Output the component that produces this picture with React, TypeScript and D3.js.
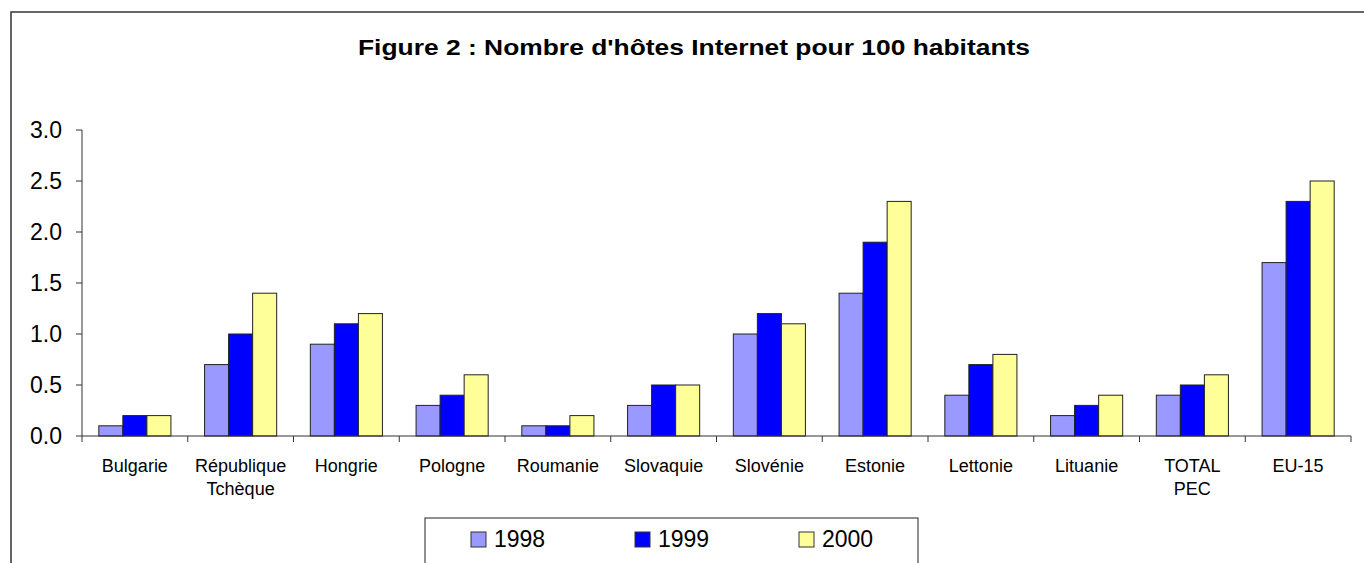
import React from "react";
import * as d3 from "d3";

const categories = [
  ["Bulgarie"],
  ["République", "Tchèque"],
  ["Hongrie"],
  ["Pologne"],
  ["Roumanie"],
  ["Slovaquie"],
  ["Slovénie"],
  ["Estonie"],
  ["Lettonie"],
  ["Lituanie"],
  ["TOTAL", "PEC"],
  ["EU-15"],
];
const years = ["1998", "1999", "2000"];
const values1998 = [0.1, 0.7, 0.9, 0.3, 0.1, 0.3, 1.0, 1.4, 0.4, 0.2, 0.4, 1.7];
const values1999 = [0.2, 1.0, 1.1, 0.4, 0.1, 0.5, 1.2, 1.9, 0.7, 0.3, 0.5, 2.3];
const values2000 = [0.2, 1.4, 1.2, 0.6, 0.2, 0.5, 1.1, 2.3, 0.8, 0.4, 0.6, 2.5];
const yTicks = [0, 0.5, 1.0, 1.5, 2.0, 2.5, 3.0];
const colors = ["#9999ff", "#0000ff", "#ffff99"];

const FONT = "Arial, 'Liberation Sans', sans-serif";

export default function App() {
  const width = 1364;
  const height = 563;
  const series = [values1998, values1999, values2000];
  const names = categories.map((c) => c.join(" "));

  const x0 = d3.scaleBand().domain(names).range([82, 1351]).padding(0);
  const x1 = d3
    .scaleBand()
    .domain(years)
    .range([0, x0.bandwidth()])
    .paddingInner(0)
    .paddingOuter(0.7);
  const y = d3.scaleLinear().domain([0, 3]).range([436, 130]);

  const legendX = [471, 635, 799];

  return (
    <svg
      width={width}
      height={height}
      style={{ position: "absolute", left: 0, top: 0, background: "#fff" }}
      fontFamily={FONT}
    >
      <rect x={0} y={0} width={width} height={height} fill="#fff" />
      {/* outer frame */}
      <rect x={11} y={12} width={1400} height={600} fill="none" stroke="#333" strokeWidth={1.5} />

      <text
        x={694}
        y={55}
        textAnchor="middle"
        fontSize={22}
        fontWeight="bold"
        textLength={672}
        lengthAdjust="spacingAndGlyphs"
      >
        Figure 2 : Nombre d'hôtes Internet pour 100 habitants
      </text>

      {/* bars */}
      {names.map((name, i) => (
        <g key={name} transform={`translate(${x0(name)},0)`}>
          {years.map((yr, j) => (
            <rect
              key={yr}
              x={x1(yr)}
              y={y(series[j][i])}
              width={x1.bandwidth()}
              height={y(0) - y(series[j][i])}
              fill={colors[j]}
              stroke="#222"
              strokeWidth={1}
            />
          ))}
        </g>
      ))}

      {/* y axis */}
      <line x1={82} x2={82} y1={y(3)} y2={y(0)} stroke="#333" strokeWidth={1} />
      {yTicks.map((t) => (
        <g key={t}>
          <line x1={76} x2={82} y1={y(t)} y2={y(t)} stroke="#333" />
          <text x={62} y={y(t)} dy="0.36em" textAnchor="end" fontSize={23}>
            {t.toFixed(1)}
          </text>
        </g>
      ))}

      {/* x axis */}
      <line x1={82} x2={1351} y1={y(0)} y2={y(0)} stroke="#333" strokeWidth={1} />
      {[...names.map((n) => x0(n) as number), 1351].map((xv, i) => (
        <line key={i} x1={xv} x2={xv} y1={y(0)} y2={y(0) + 6} stroke="#333" />
      ))}
      {categories.map((lines, i) => (
        <text
          key={i}
          x={(x0(names[i]) as number) + x0.bandwidth() / 2}
          y={472}
          textAnchor="middle"
          fontSize={18}
        >
          {lines.map((l, k) => (
            <tspan key={k} x={(x0(names[i]) as number) + x0.bandwidth() / 2} dy={k === 0 ? 0 : 23}>
              {l}
            </tspan>
          ))}
        </text>
      ))}

      {/* legend */}
      <rect x={425} y={518} width={493} height={80} fill="#fff" stroke="#222" strokeWidth={1} />
      {years.map((yr, j) => (
        <g key={yr}>
          <rect x={legendX[j]} y={532} width={15} height={15} fill={colors[j]} stroke="#333" />
          <text x={legendX[j] + 23} y={547} fontSize={23}>
            {yr}
          </text>
        </g>
      ))}
    </svg>
  );
}
